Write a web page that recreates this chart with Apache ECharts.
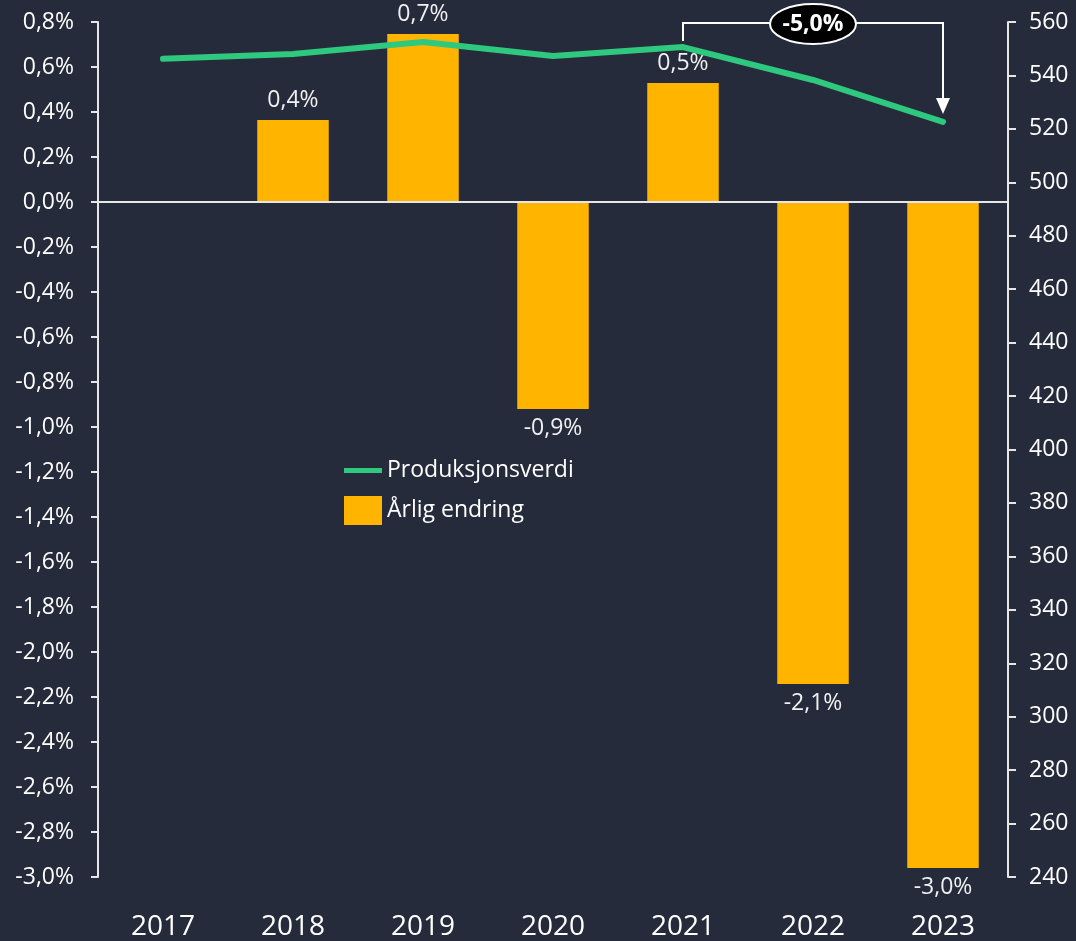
<!DOCTYPE html>
<html>
  <head>
    <meta charset="utf-8" />
    <script src="https://cdn.jsdelivr.net/npm/echarts@6.0.0/dist/echarts.min.js"></script>
    <style>
      html, body { margin: 0; padding: 0; background: #252b3b; }
    </style>
  </head>
  <body>
    <div id="main" style="width: 1076px; height: 941px"></div>

    <script type="text/javascript">
      // data
      var years = ["2017", "2018", "2019", "2020", "2021", "2022", "2023"];
      var arligEndring = [null, 0.364, 0.747, -0.92, 0.529, -2.142, -2.96];
      var produksjonsverdi = [546.2, 548.0, 552.5, 547.3, 550.6, 538.3, 522.6];
      var changeLabel = "-5,0%";

      var font = "Open Sans";
      var pct = function (v) {
        return v.toFixed(1).replace(".", ",") + "%";
      };

      var myChart = echarts.init(document.getElementById("main"));

      var option = {
        backgroundColor: "#252b3b",
        animation: false,
        textStyle: { fontFamily: font },
        grid: { left: 98, right: 68, top: 22, bottom: 64 },
        legend: {
          orient: "vertical",
          left: 339,
          top: 451,
          itemWidth: 38,
          itemHeight: 29,
          itemGap: 11,
          textStyle: { color: "#ffffff", fontSize: 23, fontFamily: font },
          data: [
            {
              name: "Produksjonsverdi",
              icon: "path://M0,0 M0,12 L38,12 L38,17 L0,17 Z M38,29"
            },
            { name: "Årlig endring", icon: "rect" }
          ]
        },
        xAxis: {
          type: "category",
          data: years,
          axisLine: { show: false },
          axisTick: { show: false },
          axisLabel: { color: "#ffffff", fontSize: 28, margin: 36 }
        },
        yAxis: [
          {
            type: "value",
            min: -3,
            max: 0.8,
            interval: 0.2,
            splitLine: { show: false },
            axisLine: { show: true, lineStyle: { color: "#e6e6e6", width: 2 } },
            axisTick: { show: true, length: 7, lineStyle: { color: "#e6e6e6", width: 2 } },
            axisLabel: {
              color: "#ffffff",
              fontSize: 23,
              margin: 24,
              formatter: pct
            }
          },
          {
            type: "value",
            min: 240,
            max: 560,
            interval: 20,
            splitLine: { show: false },
            axisLine: { show: true, lineStyle: { color: "#e6e6e6", width: 2 } },
            axisTick: { show: true, length: 8, lineStyle: { color: "#e6e6e6", width: 2 } },
            axisLabel: { color: "#ffffff", fontSize: 23, margin: 21 }
          }
        ],
        series: [
          {
            name: "Årlig endring",
            type: "bar",
            yAxisIndex: 0,
            barWidth: "55%",
            itemStyle: { color: "#ffb400" },
            data: arligEndring.map(function (v) {
              return {
                value: v,
                label: { position: v < 0 ? "bottom" : "top" }
              };
            }),
            label: {
              show: true,
              color: "#f0f0f0",
              fontSize: 23,
              distance: 8,
              formatter: function (p) {
                return p.value == null ? "" : pct(p.value);
              }
            },
            markLine: {
              silent: true,
              symbol: "none",
              label: { show: false },
              lineStyle: { color: "#e6e6e6", width: 2, type: "solid" },
              data: [{ yAxis: 0 }]
            },
            z: 2
          },
          {
            name: "Produksjonsverdi",
            type: "line",
            yAxisIndex: 1,
            data: produksjonsverdi,
            showSymbol: false,
            symbol: "none",
            lineStyle: { color: "#2ec97e", width: 6, cap: "round", join: "round" },
            itemStyle: { color: "#2ec97e" },
            z: 3
          }
        ]
      };

      myChart.setOption(option);

      // bracket annotation from 2021 to 2023 on the line
      var a = myChart.convertToPixel({ xAxisIndex: 0, yAxisIndex: 1 }, [years[4], produksjonsverdi[4]]);
      var b = myChart.convertToPixel({ xAxisIndex: 0, yAxisIndex: 1 }, [years[6], produksjonsverdi[6]]);
      var topY = 23;
      var tipY = b[1] - 8;
      var midX = (a[0] + b[0]) / 2;

      myChart.setOption({
        graphic: [
          {
            type: "polyline",
            shape: { points: [[a[0], a[1] - 6], [a[0], topY], [b[0], topY], [b[0], tipY - 14]] },
            style: { stroke: "#ffffff", lineWidth: 2, fill: null },
            z: 10
          },
          {
            type: "polygon",
            shape: { points: [[b[0] - 7, tipY - 16], [b[0] + 7, tipY - 16], [b[0], tipY]] },
            style: { fill: "#ffffff" },
            z: 10
          },
          {
            type: "ellipse",
            shape: { cx: midX, cy: topY + 1, rx: 43, ry: 20 },
            style: { fill: "#000000", stroke: "#ffffff", lineWidth: 2 },
            z: 11
          },
          {
            type: "text",
            x: midX,
            y: topY + 1,
            style: {
              text: changeLabel,
              fill: "#ffffff",
              font: "bold 23px 'Open Sans'",
              align: "center",
              verticalAlign: "middle"
            },
            z: 12
          }
        ]
      });
    </script>
  </body>
</html>
